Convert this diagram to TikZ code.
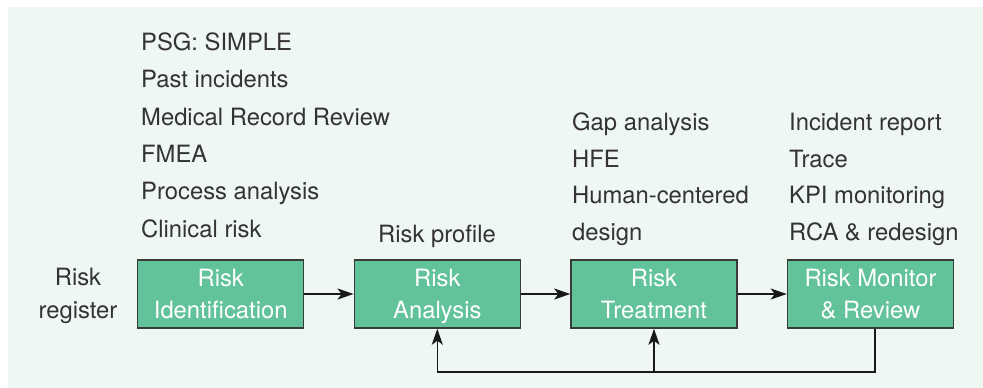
\documentclass[tikz,border=0pt]{standalone}
\usepackage{fontspec}
\setmainfont{TeX Gyre Heros}
\usetikzlibrary{arrows.meta}
\definecolor{bgc}{HTML}{EEF7F2}
\definecolor{boxc}{HTML}{62C39B}
\definecolor{txt}{HTML}{333333}
\definecolor{edge}{HTML}{3A3A3A}
\tikzset{
  stepbox/.style={draw=edge, line width=1.5pt, fill=boxc, text=white, minimum width=166pt, minimum height=68pt, inner sep=0pt, align=center, text height=50pt, text depth=2pt, font=\fontsize{23.8}{32}\selectfont},
  lbl/.style={anchor=base west, inner sep=0pt, text=txt, font=\fontsize{23.8}{32}\selectfont},
  arr/.style={line width=1.4pt, draw=black!90, -{Stealth[length=16pt,width=11pt,inset=4pt]}},
  ln/.style={line width=1.4pt, draw=black!90}
}
\begin{document}
\begin{tikzpicture}[x=1pt,y=-1pt]
\useasboundingbox (0,0) rectangle (983,388);
\fill[bgc] (8,7) rectangle (983,388);
% boxes
\node[stepbox] (b1) at (220.7,294) {Risk\\Identification};
\node[stepbox] (b2) at (437.3,294) {Risk\\Analysis};
\node[stepbox] (b3) at (654,294) {Risk\\Treatment};
\node[stepbox] (b4) at (870.5,294) {Risk Monitor\\\& Review};
% left label
\node[text=txt, inner sep=0pt, align=center, font=\fontsize{23.8}{33}\selectfont, anchor=base] (rr) at (78,318) {Risk\\register};
% column 1
\node[lbl] (l1) at (141,50) {PSG: SIMPLE};
\node[lbl] (l2) at (141,87) {Past incidents};
\node[lbl] (l3) at (141,125) {Medical Record Review};
\node[lbl] (l4) at (141,162) {FMEA};
\node[lbl] (l5) at (141,199) {Process analysis};
\node[lbl] (l6) at (141,237) {Clinical risk};
% column 2
\node[lbl] (p1) at (378,242) {Risk profile};
% column 3
\node[lbl] (t1) at (572,130) {Gap analysis};
\node[lbl] (t2) at (572,167) {HFE};
\node[lbl] (t3) at (572,203) {Human-centered};
\node[lbl] (t4) at (572,240) {design};
% column 4
\node[lbl] (m1) at (789,130) {Incident report};
\node[lbl] (m2) at (789,167) {Trace};
\node[lbl] (m3) at (789,203) {KPI monitoring};
\node[lbl] (m4) at (789,240) {RCA \& redesign};
% arrows
\draw[arr] (b1) -- (b2);
\draw[arr] (b2) -- (b3);
\draw[arr] (b3) -- (b4);
\coordinate (fr) at (875,372);
\coordinate (fl) at (b2.south |- fr);
\draw[arr] (b4.south -| fr) -- (fr) -- (fl) -- (b2.south);
\draw[arr] (b3.south |- fr) -- (b3.south);
\end{tikzpicture}
\end{document}
